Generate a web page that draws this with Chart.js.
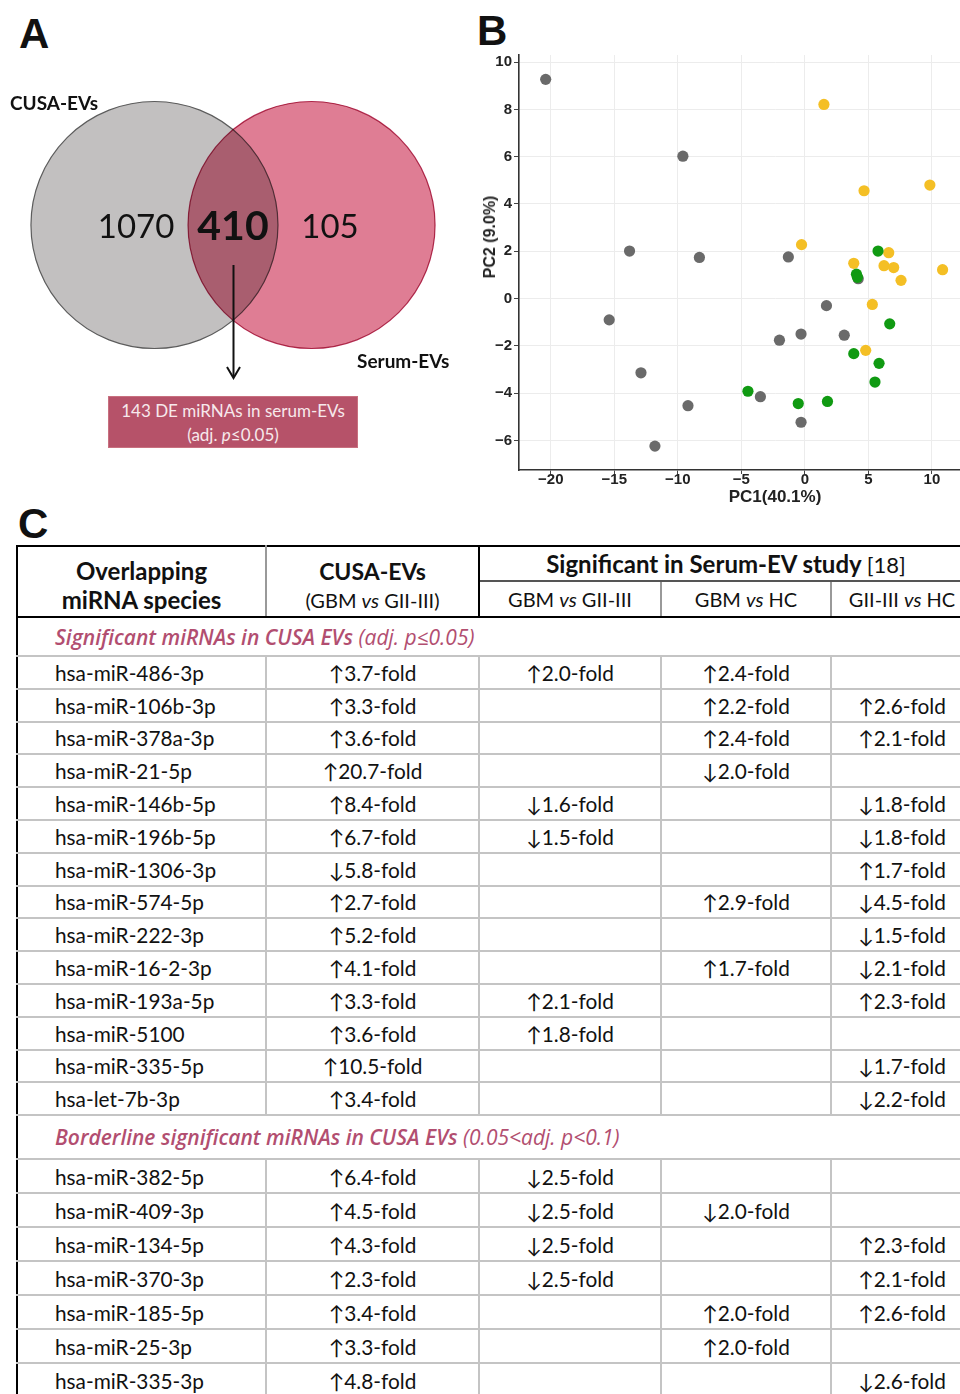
<!DOCTYPE html>
<html>
<head>
<meta charset="utf-8">
<script src="https://cdn.jsdelivr.net/npm/chart.js@4.4.0/dist/chart.umd.min.js"></script>
<style>
  body { margin: 0; background: #fff; }
  #page { position: relative; width: 960px; height: 1394px; overflow: hidden; font-family: Lato, "Open Sans", sans-serif; color: #111; }
  .panel { position: absolute; font-family: "Liberation Sans", Arial, sans-serif; font-weight: bold; font-size: 42px; line-height: 1; }
  .lbl { position: absolute; font-weight: bold; font-size: 19px; line-height: 1; }
  #box { position: absolute; left: 108px; top: 396px; width: 250px; height: 52px; background: #b65269; border: 1px solid #c8707f;
         color: #f7e9ec; font-size: 17px; text-align: center; line-height: 24px; padding-top: 2px; box-sizing: border-box; }
  #ytitle { position: absolute; left: 490px; top: 237px; transform: translate(-50%, -50%) rotate(-90deg);
            font-family: "Liberation Sans", Arial, sans-serif; font-weight: bold; font-size: 16px; white-space: nowrap; color: #222; }
  table { position: absolute; left: 16px; top: 545px; border-collapse: collapse; table-layout: fixed; width: 956px; font-size: 20.8px; }
  td, th { border: 2px solid #c4c4c4; padding: 0; text-align: center; vertical-align: middle; white-space: nowrap; overflow: hidden; }
  th { font-weight: normal; border-color: #999; font-size: 20px; }
  thead tr:first-child th { border-top: 2px solid #000; }
  thead th.main { border-left: 2px solid #000; border-right: 2px solid #000; }
  thead th.first { border-left: 2px solid #000; }
  thead th.sup { border-bottom: 2px solid #555; }
  thead tr:last-child th, thead th[rowspan] { border-bottom: 2px solid #000; }
  th[rowspan] { line-height: 28px; padding-top: 8px; }
  td.first { text-align: left; padding-left: 37px; border-left: 2px solid #000; }
  td.sec { text-align: left; padding-left: 37px; font-family: "Open Sans", Lato, sans-serif; font-size: 21px; font-style: italic; color: #b24e70; border-left: 2px solid #000; border-right: none; }
  .b { font-weight: bold; font-size: 24px; }
</style>
</head>
<body>
<div id="page">
  <div class="panel" style="left:19px;top:13px;">A</div>
  <div class="panel" style="left:477px;top:10px;">B</div>
  <div class="panel" style="left:18px;top:503px;">C</div>

  <canvas id="venn" width="470" height="470" style="position:absolute;left:0;top:0;"></canvas>
  <div class="lbl" style="left:10px;top:93px;">CUSA-EVs</div>
  <div class="lbl" style="left:357px;top:351px;">Serum-EVs</div>
  <svg style="position:absolute;left:0;top:0;" width="470" height="400">
    <line x1="233.5" y1="265" x2="233.5" y2="376" stroke="#111" stroke-width="2"/>
    <polyline points="227,367 233.5,378 240,367" fill="none" stroke="#111" stroke-width="2"/>
  </svg>
  <div id="box">143 DE miRNAs in serum-EVs<br>(adj. <i>p</i>≤0.05)</div>

  <canvas id="pca" width="580" height="470" style="position:absolute;left:470px;top:40px;"></canvas>
  <div id="ytitle">PC2 (9.0%)</div>

  <table id="tbl">
    <colgroup><col style="width:249px"><col style="width:213px"><col style="width:182px"><col style="width:170px"><col style="width:142px"></colgroup>
    <thead>
      <tr style="height:35px">
        <th rowspan="2" class="first"><span class="b">Overlapping<br>miRNA species</span></th>
        <th rowspan="2" class="main"><span class="b" style="font-size:23px">CUSA-EVs</span><br>(GBM <i>vs</i> GII-III)</th>
        <th colspan="3" class="sup" style="border-left:2px solid #000"><span class="b">Significant in Serum-EV study</span> <span style="font-size:22px">[18]</span></th>
      </tr>
      <tr style="height:36px">
        <th style="border-left:2px solid #000">GBM <i>vs</i> GII-III</th>
        <th>GBM <i>vs</i> HC</th>
        <th>GII-III <i>vs</i> HC</th>
      </tr>
    </thead>
    <tbody id="tbody"></tbody>
  </table>
</div>

<script>
// ---- A: Venn counts
const vennCounts = [1070, 410, 105];

// ---- B: PCA scores (PC1, PC2)
const greyX = [-20.4, -9.6, -13.8, -8.3, -1.3, 4.2, 1.7, -15.4, -0.3, -2.0, 3.1, -12.9, -3.5, -9.2, -0.3, -11.8];
const greyY = [9.27, 6.02, 2.01, 1.74, 1.76, 0.84, -0.3, -0.9, -1.5, -1.76, -1.55, -3.14, -4.15, -4.53, -5.23, -6.24];
const yellowX = [1.5, 4.66, 9.84, -0.26, 6.6, 3.85, 6.23, 6.99, 7.57, 10.84, 5.31, 4.79];
const yellowY = [8.21, 4.56, 4.8, 2.28, 1.94, 1.49, 1.39, 1.31, 0.77, 1.22, -0.25, -2.19];
const greenX = [5.76, 4.06, 4.14, 6.68, 3.85, 5.84, 5.52, -4.48, -0.52, 1.78];
const greenY = [2.01, 1.03, 0.9, -1.07, -2.33, -2.74, -3.53, -3.92, -4.44, -4.35];
const xTicks = [-20, -15, -10, -5, 0, 5, 10, 15];
const yTicks = [-6, -4, -2, 0, 2, 4, 6, 8, 10];

// ---- C: table (positive = up, negative = down, null = not significant)
const sigMirnas = ['hsa-miR-486-3p', 'hsa-miR-106b-3p', 'hsa-miR-378a-3p', 'hsa-miR-21-5p', 'hsa-miR-146b-5p',
  'hsa-miR-196b-5p', 'hsa-miR-1306-3p', 'hsa-miR-574-5p', 'hsa-miR-222-3p', 'hsa-miR-16-2-3p',
  'hsa-miR-193a-5p', 'hsa-miR-5100', 'hsa-miR-335-5p', 'hsa-let-7b-3p'];
const sigCusa = [3.7, 3.3, 3.6, 20.7, 8.4, 6.7, -5.8, 2.7, 5.2, 4.1, 3.3, 3.6, 10.5, 3.4];
const sigGbmGii = [2.0, null, null, null, -1.6, -1.5, null, null, null, null, 2.1, 1.8, null, null];
const sigGbmHc = [2.4, 2.2, 2.4, -2.0, null, null, null, 2.9, null, 1.7, null, null, null, null];
const sigGiiHc = [null, 2.6, 2.1, null, -1.8, -1.8, 1.7, -4.5, -1.5, -2.1, 2.3, null, -1.7, -2.2];

const borderMirnas = ['hsa-miR-382-5p', 'hsa-miR-409-3p', 'hsa-miR-134-5p', 'hsa-miR-370-3p',
  'hsa-miR-185-5p', 'hsa-miR-25-3p', 'hsa-miR-335-3p'];
const borderCusa = [6.4, 4.5, 4.3, 2.3, 3.4, 3.3, 4.8];
const borderGbmGii = [-2.5, -2.5, -2.5, -2.5, null, null, null];
const borderGbmHc = [null, -2.0, null, null, 2.0, 2.0, null];
const borderGiiHc = [null, null, 2.3, 2.1, 2.6, null, -2.6];

// ---------- Venn (bubble chart, units = circle radius)
const R = 123.5;
const vennPlugin = {
  id: 'venn',
  // serum circle (dataset 0) is drawn last, multiplied over the grey one
  beforeDatasetDraw(chart, args) {
    if (args.index === 0) { chart.ctx.save(); chart.ctx.globalCompositeOperation = 'multiply'; }
  },
  afterDatasetDraw(chart, args) {
    if (args.index === 0) chart.ctx.restore();
  },
  afterDraw(chart) {
    const { ctx, scales: { x, y } } = chart;
    const pos = [-0.785, 0, 0.785];
    ctx.save();
    ctx.fillStyle = '#111';
    ctx.textAlign = 'center';
    ctx.textBaseline = 'middle';
    vennCounts.forEach((c, i) => {
      ctx.font = i === 1 ? 'bold 41px Lato' : '33px Lato';
      ctx.fillText(String(c), x.getPixelForValue(pos[i]), y.getPixelForValue(0) + 2);
    });
    ctx.restore();
  }
};
new Chart(document.getElementById('venn'), {
  type: 'bubble',
  data: {
    datasets: [
      { label: 'Serum-EVs', data: [{ x: 0.636, y: 0, r: R }], backgroundColor: 'rgb(223,125,148)', borderColor: '#b8325a', borderWidth: 1.2, clip: false },
      { label: 'CUSA-EVs', data: [{ x: -0.636, y: 0, r: R }], backgroundColor: 'rgb(194,192,192)', borderColor: '#5c5c5c', borderWidth: 1.2, clip: false }
    ]
  },
  options: {
    responsive: false, animation: false, devicePixelRatio: 1,
    layout: { padding: 0, autoPadding: false },
    scales: {
      x: { display: false, min: -233 / R, max: 237 / R },
      y: { display: false, min: -245 / R, max: 225 / R }
    },
    plugins: { legend: { display: false }, tooltip: { enabled: false } },
    elements: { point: { hoverRadius: 0 } }
  },
  plugins: [vennPlugin]
});

// ---------- PCA scatter
const zip = (xs, ys) => xs.map((v, i) => ({ x: v, y: ys[i] }));
const tickFont = { family: 'Liberation Sans', weight: 'bold', size: 15 };
new Chart(document.getElementById('pca'), {
  type: 'scatter',
  data: {
    datasets: [
      { data: zip(greenX, greenY), backgroundColor: '#109a12' },
      { data: zip(yellowX, yellowY), backgroundColor: '#f4bf25' },
      { data: zip(greyX, greyY), backgroundColor: '#6a6a6a' }
    ]
  },
  options: {
    responsive: false, animation: false, devicePixelRatio: 1,
    layout: { padding: { top: 15, right: 19, left: 0, bottom: 0 } },
    elements: { point: { radius: 5.6, borderWidth: 0, hoverRadius: 5.6 } },
    scales: {
      x: {
        type: 'linear', min: -22.5, max: 17.8,
        afterBuildTicks: s => { s.ticks = xTicks.map(v => ({ value: v })); },
        afterFit: s => { s.height = 40; },
        grid: { color: '#ececec', tickColor: '#444', tickLength: 4 },
        border: { color: '#333', width: 1.6 },
        ticks: { color: '#222', font: tickFont, padding: -3, callback: v => String(v).replace('-', '\u2212') },
        title: { display: true, text: 'PC1(40.1%)', color: '#222', font: { family: 'Liberation Sans', weight: 'bold', size: 17 }, padding: { top: 0, bottom: 2 } }
      },
      y: {
        type: 'linear', min: -7.25, max: 10.3,
        afterBuildTicks: s => { s.ticks = yTicks.map(v => ({ value: v })); },
        afterFit: s => { s.width = 49; },
        grid: { color: '#ececec', tickColor: '#444', tickLength: 5 },
        border: { color: '#333', width: 1.6 },
        ticks: { color: '#222', font: tickFont, padding: 2, callback: v => String(v).replace('-', '\u2212') }
      }
    },
    plugins: { legend: { display: false }, tooltip: { enabled: false } }
  }
});

// ---------- Table
const fmt = v => v == null ? '' : (v > 0 ? '\u2191' : '\u2193') + Math.abs(v).toFixed(1) + '-fold';
const tbody = document.getElementById('tbody');
function section(text, h) {
  const tr = document.createElement('tr');
  tr.style.height = h + 'px';
  tr.innerHTML = '<td colspan="5" class="sec">' + text + '</td>';
  tbody.appendChild(tr);
}
function rows(names, a, b, c, d, h) {
  names.forEach((n, i) => {
    const tr = document.createElement('tr');
    tr.style.height = h + 'px';
    tr.innerHTML = '<td class="first">' + n + '</td><td>' + fmt(a[i]) + '</td><td>' + fmt(b[i]) +
      '</td><td>' + fmt(c[i]) + '</td><td>' + fmt(d[i]) + '</td>';
    tbody.appendChild(tr);
  });
}
section('<span style="font-weight:600">Significant miRNAs in CUSA EVs</span> (adj. p\u22640.05)', 39);
rows(sigMirnas, sigCusa, sigGbmGii, sigGbmHc, sigGiiHc, 32.8);
section('<span style="font-weight:600">Borderline significant miRNAs in CUSA EVs</span> (0.05&lt;adj. p&lt;0.1)', 44);
rows(borderMirnas, borderCusa, borderGbmGii, borderGbmHc, borderGiiHc, 34);
</script>
</body>
</html>
